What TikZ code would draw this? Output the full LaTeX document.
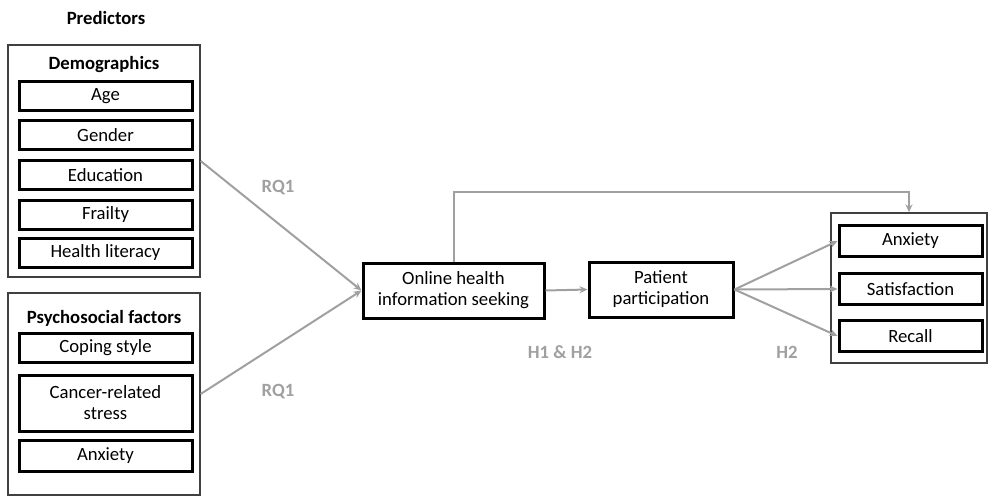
\documentclass[tikz,border=0pt]{standalone}
\usepackage{fontspec}
\setmainfont{Carlito}
\usetikzlibrary{arrows.meta}
\definecolor{arrgray}{HTML}{A0A0A0}
\definecolor{outline}{HTML}{404040}
\begin{document}
\begin{tikzpicture}[x=1pt,y=-1pt,
  every node/.style={font=\fontsize{18.7}{21}\selectfont, inner sep=0pt},
  group/.style={draw=outline, line width=1.3pt, rectangle},
  item/.style={draw=black, line width=3pt, rectangle, align=center},
  lbl/.style={font=\fontsize{18.7}{21}\selectfont\bfseries},
  hyp/.style={font=\fontsize{18.7}{21}\selectfont\bfseries, text=arrgray},
  arr/.style={draw=arrgray, line width=2pt, -{Stealth[length=8pt,width=7pt]}}]
\useasboundingbox (0,0) rectangle (988,499);

\node[lbl] (pred) at (106,18) {Predictors};

% Demographics group
\node[group, minimum width=192, minimum height=232] (demo) at (104,161) {};
\node[lbl] (demotitle) at (104,65) {Demographics};
\node[item, minimum width=173, minimum height=29] (age) at (105.5,96) {Age};
\node[item, minimum width=173, minimum height=29] (gender) at (105.5,135) {Gender};
\node[item, minimum width=173, minimum height=29] (edu) at (105.5,175) {Education};
\node[item, minimum width=173, minimum height=29] (frail) at (105.5,214.5) {Frailty};
\node[item, minimum width=173, minimum height=29] (hl) at (105.5,253) {Health literacy};

% Psychosocial group
\node[group, minimum width=192, minimum height=202] (psych) at (104,394) {};
\node[lbl] (psytitle) at (104,318) {Psychosocial factors};
\node[item, minimum width=173, minimum height=29] (cope) at (105.5,348) {Coping style};
\node[item, minimum width=173, minimum height=56] (stress) at (105.5,403) {Cancer-related\\stress};
\node[item, minimum width=173, minimum height=31] (anx1) at (105.5,456) {Anxiety};

% Middle
\node[item, minimum width=181, minimum height=55] (ohis) at (453.5,290.5) {Online health\\information seeking};
\node[item, minimum width=144, minimum height=55] (pp) at (661,289.5) {Patient\\participation};

% Outcomes group
\node[group, minimum width=156, minimum height=150] (out) at (909,288) {};
\node[item, minimum width=143, minimum height=31] (anx2) at (910.5,241) {Anxiety};
\node[item, minimum width=143, minimum height=31] (sat) at (910.5,289) {Satisfaction};
\node[item, minimum width=143, minimum height=31] (rec) at (910.5,336) {Recall};

% Connectors
\draw[arr] (demo.east) -- (ohis.west);
\draw[arr] (psych.east) -- (ohis.west);
\draw[arr] (ohis.east) -- (pp.west);
\draw[arr] (ohis.north) -- ++(0,-70) -| (out.north);
\draw[arr] (pp.east) -- (anx2.west);
\draw[arr] (pp.east) -- (sat.west);
\draw[arr] (pp.east) -- (rec.west);

% Labels
\node[hyp] (rq1a) at (278,188) {RQ1};
\node[hyp] (rq1b) at (278,392) {RQ1};
\node[hyp] (h12) at (560,352) {H1 \& H2};
\node[hyp] (h2) at (787,352) {H2};
\end{tikzpicture}
\end{document}
